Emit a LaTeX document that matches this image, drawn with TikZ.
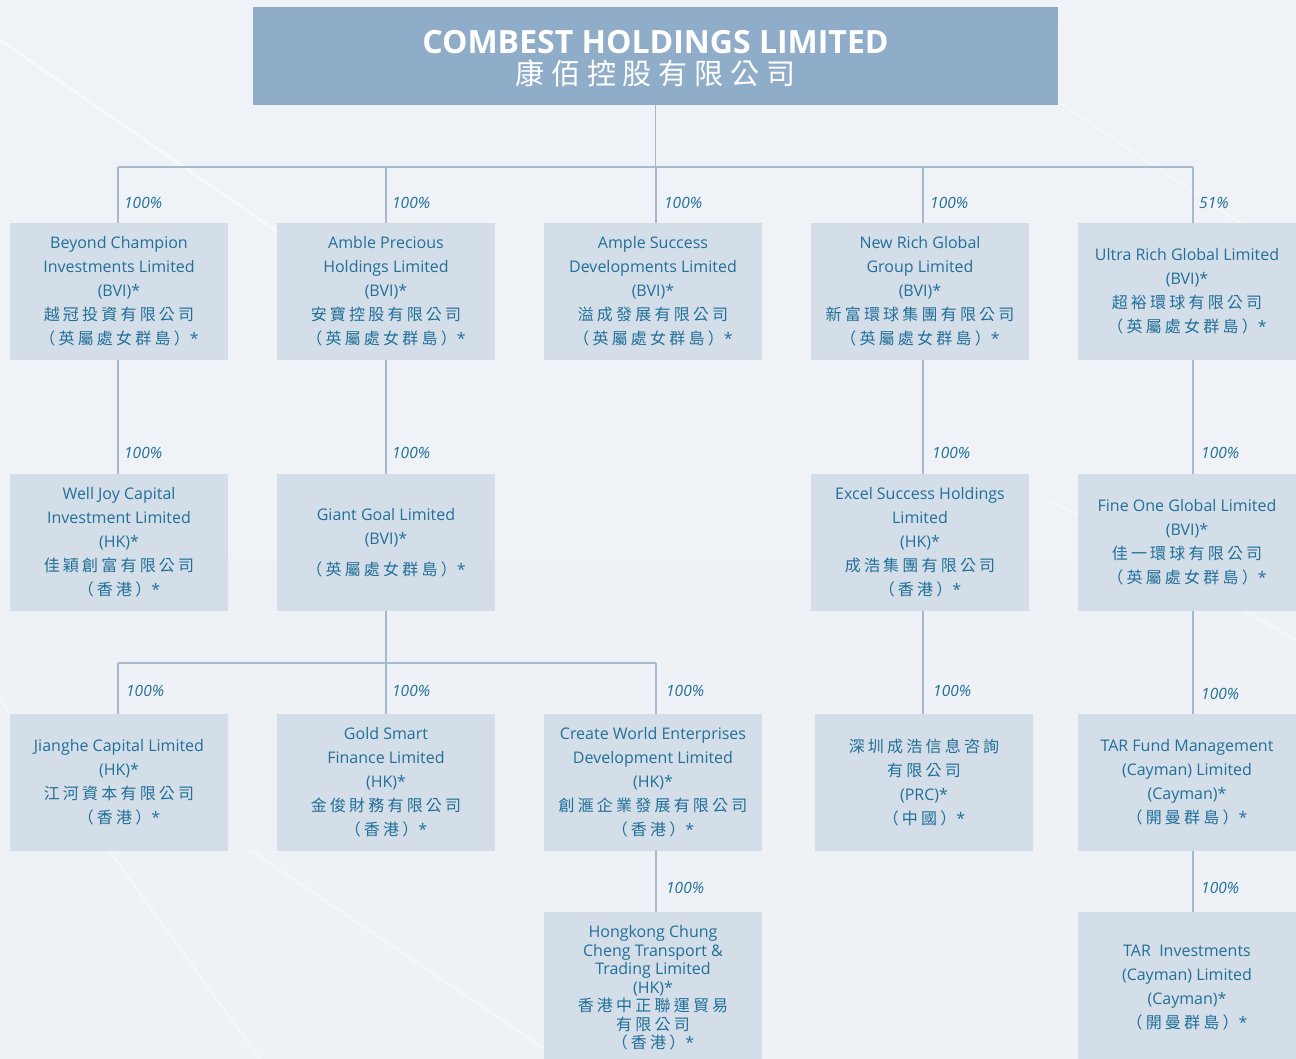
\documentclass[tikz,border=0pt]{standalone}
\usepackage{fontspec}
\setmainfont{Open Sans}
\newfontfamily\cjk[LetterSpace=20]{Noto Sans CJK TC}
\newfontfamily\cjkhead[LetterSpace=24]{Noto Sans CJK TC}
\newcommand{\zh}[1]{{\cjk #1}}
\definecolor{bgA}{HTML}{E6ECF2}
\definecolor{bgB}{HTML}{F8F9FB}
\definecolor{hdrfill}{HTML}{8FADC8}
\definecolor{boxfill}{HTML}{D3DEE8}
\definecolor{txt}{HTML}{226F99}
\definecolor{lnc}{HTML}{A5BACE}
\tikzset{
  entity/.style={fill=boxfill, minimum width=218pt, minimum height=137pt, inner sep=2pt,
    align=center, text=txt, font=\fontsize{16}{24}\selectfont},
  conn/.style={draw=lnc, line width=1.6pt},
  pct/.style={anchor=west, text=txt, inner sep=0pt, font=\fontsize{15.5}{17}\selectfont\itshape},
}
\begin{document}
\begin{tikzpicture}[x=1pt,y=-1pt]
\useasboundingbox (0,0) rectangle (1296,1059);
\clip (0,0) rectangle (1296,1059);
\shade[left color=bgA, right color=bgB, shading angle=0] (0,0) rectangle (1296,1059);
\shade[top color=bgB, bottom color=bgA, opacity=0.5] (0,0) rectangle (1296,1059);
% faint decorative lines
\draw[white, line width=3pt, opacity=0.5] (0,40) -- (420,330);
\draw[white, line width=2pt, opacity=0.4] (0,700) -- (260,1059);
\draw[white, line width=2pt, opacity=0.4] (250,850) -- (560,1059);
\draw[white, line width=2pt, opacity=0.4] (1040,90) -- (1296,260);
\draw[white, line width=2pt, opacity=0.4] (1050,500) -- (1296,640);

% header
\node[fill=hdrfill, minimum width=805pt, minimum height=98pt, inner sep=0pt, align=center, text=white,
  font=\fontsize{32}{31}\selectfont\bfseries]
  (hdr) at (655.5,56) {\rule{0pt}{29pt}COMBEST HOLDINGS LIMITED\\
  {\cjkhead\mdseries\fontsize{29}{32}\selectfont 康佰控股有限公司}};

% row 1
\node[entity] (b11) at (119,291.5) {Beyond Champion\\Investments Limited\\(BVI)*\\\zh{越冠投資有限公司}\\\zh{（英屬處女群島）}*};
\node[entity] (b12) at (386,291.5) {Amble Precious\\Holdings Limited\\(BVI)*\\\zh{安寶控股有限公司}\\\zh{（英屬處女群島）}*};
\node[entity] (b13) at (653,291.5) {Ample Success\\Developments Limited\\(BVI)*\\\zh{溢成發展有限公司}\\\zh{（英屬處女群島）}*};
\node[entity] (b14) at (920,291.5) {New Rich Global\\Group Limited\\(BVI)*\\\zh{新富環球集團有限公司}\\\zh{（英屬處女群島）}*};
\node[entity] (b15) at (1187,291.5) {Ultra Rich Global Limited\\(BVI)*\\\zh{超裕環球有限公司}\\\zh{（英屬處女群島）}*};

% row 2
\node[entity] (b21) at (119,542.5) {Well Joy Capital\\Investment Limited\\(HK)*\\\zh{佳穎創富有限公司}\\\zh{（香港）}*};
\node[entity] (b22) at (386,542.5) {Giant Goal Limited\\(BVI)*\\[7pt]\zh{（英屬處女群島）}*};
\node[entity] (b24) at (920,542.5) {Excel Success Holdings\\Limited\\(HK)*\\\zh{成浩集團有限公司}\\\zh{（香港）}*};
\node[entity] (b25) at (1187,542.5) {Fine One Global Limited\\(BVI)*\\\zh{佳一環球有限公司}\\\zh{（英屬處女群島）}*};

% row 3
\node[entity] (b31) at (119,782.5) {Jianghe Capital Limited\\(HK)*\\\zh{江河資本有限公司}\\\zh{（香港）}*};
\node[entity] (b32) at (386,782.5) {Gold Smart\\Finance Limited\\(HK)*\\\zh{金俊財務有限公司}\\\zh{（香港）}*};
\node[entity] (b33) at (653,782.5) {Create World Enterprises\\Development Limited\\(HK)*\\\zh{創滙企業發展有限公司}\\\zh{（香港）}*};
\node[entity] (b34) at (924,782.5) {\zh{深圳成浩信息咨詢}\\\zh{有限公司}\\(PRC)*\\\zh{（中國）}*};
\node[entity] (b35) at (1187,782.5) {TAR Fund Management\\(Cayman) Limited\\(Cayman)*\\\zh{（開曼群島）}*};

% row 4
\node[entity, minimum height=152pt, font=\fontsize{16}{18.5}\selectfont] (b43) at (653,988) {Hongkong Chung\\Cheng Transport \&\\Trading Limited\\(HK)*\\\zh{香港中正聯運貿易}\\\zh{有限公司}\\\zh{（香港）}*};
\node[entity, minimum height=152pt] (b45) at (1187,988) {TAR\ \ Investments\\(Cayman) Limited\\(Cayman)*\\\zh{（開曼群島）}*};

% junctions
\coordinate (j1) at (118,167);
\coordinate (j2) at (386,167);
\coordinate (j3) at (656,167);
\coordinate (j4) at (923,167);
\coordinate (j5) at (1193,167);
\coordinate (k1) at (118,663);
\coordinate (k2) at (386,663);
\coordinate (k3) at (656,663);

% connectors
\draw[conn] (hdr.south) -- (hdr.south |- j1);
\draw[conn] (j1) -- (j5);
\draw[conn] (j1) -- (j1 |- b11.north);
\draw[conn] (j2) -- (j2 |- b12.north);
\draw[conn] (j3) -- (j3 |- b13.north);
\draw[conn] (j4) -- (j4 |- b14.north);
\draw[conn] (j5) -- (j5 |- b15.north);

\draw[conn] (b11.south -| j1) -- (b21.north -| j1);
\draw[conn] (b12.south -| j2) -- (b22.north -| j2);
\draw[conn] (b14.south -| j4) -- (b24.north -| j4);
\draw[conn] (b15.south -| j5) -- (b25.north -| j5);

\draw[conn] (b22.south -| k2) -- (k2);
\draw[conn] (k1) -- (k3);
\draw[conn] (k1) -- (k1 |- b31.north);
\draw[conn] (k2) -- (k2 |- b32.north);
\draw[conn] (k3) -- (k3 |- b33.north);
\draw[conn] (b24.south -| j4) -- (b34.north -| j4);
\draw[conn] (b25.south -| j5) -- (b35.north -| j5);

\draw[conn] (b33.south -| k3) -- (b43.north -| k3);
\draw[conn] (b35.south -| j5) -- (b45.north -| j5);

% percentages
\node[pct] (p11) at (124,203) {100\%};
\node[pct] (p12) at (392,203) {100\%};
\node[pct] (p13) at (664,203) {100\%};
\node[pct] (p14) at (930,203) {100\%};
\node[pct] (p15) at (1199,203) {51\%};
\node[pct] (p21) at (124,453) {100\%};
\node[pct] (p22) at (392,453) {100\%};
\node[pct] (p24) at (932,453) {100\%};
\node[pct] (p25) at (1201,453) {100\%};
\node[pct] (p31) at (126,691) {100\%};
\node[pct] (p32) at (392,691) {100\%};
\node[pct] (p33) at (666,691) {100\%};
\node[pct] (p34) at (933,691) {100\%};
\node[pct] (p35) at (1201,694) {100\%};
\node[pct] (p43) at (666,888) {100\%};
\node[pct] (p45) at (1201,888) {100\%};
\end{tikzpicture}
\end{document}
